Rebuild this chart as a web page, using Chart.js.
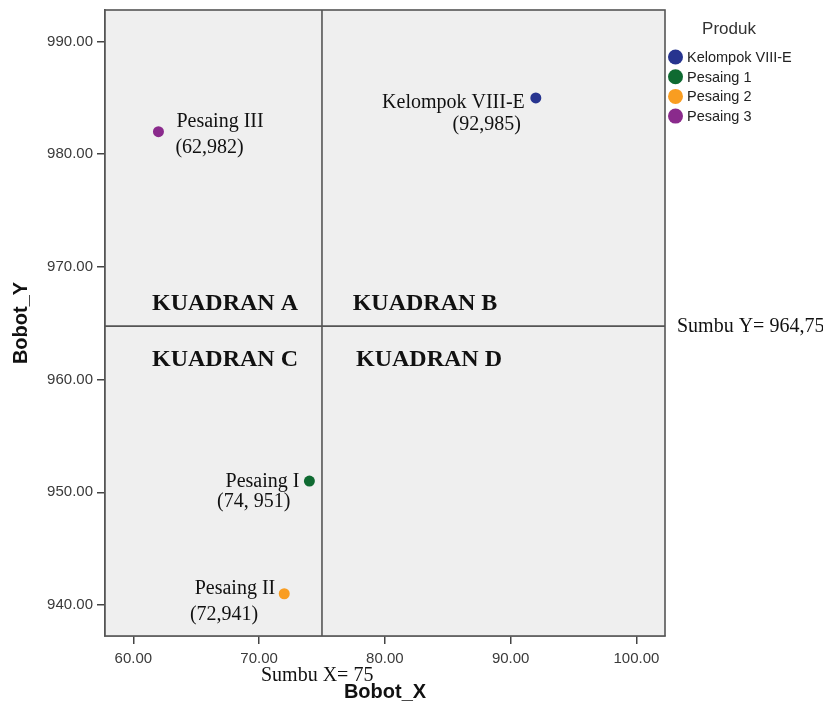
<!DOCTYPE html>
<html><head><meta charset="utf-8">
<script src="https://cdn.jsdelivr.net/npm/chart.js@4/dist/chart.umd.min.js"></script>
<style>html,body{margin:0;padding:0;background:#fff}#wrap{width:823px;height:704px;position:relative}</style>
</head><body><div id="wrap"><canvas id="c" width="823" height="704"></canvas></div>
<script>
// ---- data ----
const products = ['Kelompok VIII-E', 'Pesaing 1', 'Pesaing 2', 'Pesaing 3'];
const bobotX = [92, 74, 72, 62];
const bobotY = [985, 951, 941, 982];
const pointNames = ['Kelompok VIII-E', 'Pesaing I', 'Pesaing II', 'Pesaing III'];
const pointCoords = ['(92,985)', '(74, 951)', '(72,941)', '(62,982)'];
const sumbuX = 75;
const sumbuY = 964.75;
const sumbuXLabel = 'Sumbu X= 75';
const sumbuYLabel = 'Sumbu Y= 964,75';
const quadrantNames = ['KUADRAN A', 'KUADRAN B', 'KUADRAN C', 'KUADRAN D'];
const xRange = [57.75, 102.27];
const yRange = [937.25, 992.80];
const xTickStep = 10;
const yTickStep = 10;
const legendTitle = 'Produk';

// ---- styles ----
const productColors = ['#27348f', '#0f6a31', '#f99d21', '#8a2a8c'];
const SANS = '"Liberation Sans", Arial, sans-serif';
const SERIF = '"Liberation Serif", "Times New Roman", serif';
// label offsets in px relative to each point: [nameDx, nameDy, nameAlign, coordDx, coordDy, coordAlign]
const labelOffsets = [
  [-11, 10, 'right', -15, 32, 'right'],
  [-10, 6, 'right', -19, 26, 'right'],
  [-9, 0, 'right', -26, 26, 'right'],
  [18, -5, 'left', 17, 21, 'left']
];
// quadrant label offsets relative to the crossing of the lines
const quadOffsets = [[-97, -16], [103, -16], [-97, 40], [107, 40]];

const W = 823, H = 704;
const AREA = {left: 105, top: 10, right: 665, bottom: 636};

const datasets = products.map((p, i) => ({
  label: p,
  data: [{x: bobotX[i], y: bobotY[i]}],
  backgroundColor: productColors[i],
  borderColor: productColors[i],
  borderWidth: 0,
  pointRadius: 5.5,
  pointHoverRadius: 5.5
}));
datasets.unshift({
  label: '_vline',
  data: [{x: sumbuX, y: yRange[0]}, {x: sumbuX, y: yRange[1]}],
  showLine: true, borderColor: '#555', borderWidth: 1.6, pointRadius: 0
}, {
  label: '_hline',
  data: [{x: xRange[0], y: sumbuY}, {x: xRange[1], y: sumbuY}],
  showLine: true, borderColor: '#555', borderWidth: 1.6, pointRadius: 0
});

const framePlugin = {
  id: 'frame',
  beforeDatasetsDraw(chart) {
    const {ctx, chartArea: a} = chart;
    ctx.save();
    ctx.fillStyle = '#efefef';
    ctx.fillRect(a.left, a.top, a.right - a.left, a.bottom - a.top);
    ctx.restore();
  },
  afterDatasetsDraw(chart) {
    const {ctx, chartArea: a, scales: {x, y}} = chart;
    ctx.save();
    // point labels
    ctx.fillStyle = '#111';
    ctx.font = '20px ' + SERIF;
    ctx.textBaseline = 'alphabetic';
    for (let i = 0; i < products.length; i++) {
      const px = x.getPixelForValue(bobotX[i]);
      const py = y.getPixelForValue(bobotY[i]);
      const o = labelOffsets[i];
      ctx.textAlign = o[2];
      ctx.fillText(pointNames[i], px + o[0], py + o[1]);
      ctx.textAlign = o[5];
      ctx.fillText(pointCoords[i], px + o[3], py + o[4]);
    }
    // quadrant labels
    const cx = x.getPixelForValue(sumbuX), cy = y.getPixelForValue(sumbuY);
    ctx.font = 'bold 24px ' + SERIF;
    ctx.textAlign = 'center';
    quadrantNames.forEach((q, i) => {
      ctx.fillText(q, cx + quadOffsets[i][0], cy + quadOffsets[i][1]);
    });
    ctx.restore();
  },
  afterDraw(chart) {
    const {ctx, chartArea: a, scales: {x, y}} = chart;
    ctx.save();
    ctx.strokeStyle = '#555';
    ctx.lineWidth = 1.6;
    ctx.strokeRect(a.left, a.top, a.right - a.left, a.bottom - a.top);
    // axis line annotations
    const cx = x.getPixelForValue(sumbuX), cy = y.getPixelForValue(sumbuY);
    ctx.fillStyle = '#111';
    ctx.font = '20px ' + SERIF;
    ctx.textAlign = 'left';
    ctx.textBaseline = 'middle';
    ctx.fillText(sumbuYLabel, a.right + 12, cy + 1);
    ctx.textBaseline = 'alphabetic';
    ctx.fillText(sumbuXLabel, cx - 61, a.bottom + 45);
    // legend
    ctx.fillStyle = '#333';
    ctx.font = '17px ' + SANS;
    ctx.textAlign = 'center';
    ctx.textBaseline = 'middle';
    ctx.fillText(legendTitle, a.right + 64, 29);
    ctx.font = '14.5px ' + SANS;
    ctx.textAlign = 'left';
    products.forEach((p, i) => {
      const ly = 57 + i * 19.7;
      ctx.beginPath();
      ctx.fillStyle = productColors[i];
      ctx.arc(a.right + 10.5, ly, 7.5, 0, Math.PI * 2);
      ctx.fill();
      ctx.fillStyle = '#222';
      ctx.fillText(p, a.right + 22, ly + 1);
    });
    ctx.restore();
  }
};

new Chart(document.getElementById('c'), {
  type: 'scatter',
  data: {datasets},
  options: {
    responsive: false,
    animation: false,
    events: [],
    layout: {padding: {left: 0, top: AREA.top, right: W - AREA.right, bottom: 0}},
    plugins: {legend: {display: false}, tooltip: {enabled: false}},
    scales: {
      x: {
        type: 'linear', position: 'bottom',
        min: xRange[0], max: xRange[1],
        ticks: {
          stepSize: xTickStep, includeBounds: false,
          callback: v => Number(v).toFixed(2),
          font: {family: SANS, size: 15}, color: '#3a3a3a', padding: 6, maxRotation: 0
        },
        grid: {drawOnChartArea: false, drawTicks: true, tickLength: 8, color: '#444', lineWidth: 1.5},
        border: {display: true, color: '#555', width: 1.6},
        title: {display: true, text: 'Bobot_X', font: {family: SANS, size: 20, weight: 'bold'}, color: '#111', padding: {top: 0, bottom: 0}},
        afterFit: s => { s.height = H - AREA.bottom; s.paddingLeft = 0; s.paddingRight = 0; }
      },
      y: {
        type: 'linear', position: 'left',
        min: yRange[0], max: yRange[1],
        ticks: {
          stepSize: yTickStep, includeBounds: false,
          callback: v => Number(v).toFixed(2),
          font: {family: SANS, size: 15}, color: '#3a3a3a', padding: 4
        },
        grid: {drawOnChartArea: false, drawTicks: true, tickLength: 8, color: '#444', lineWidth: 1.5},
        border: {display: true, color: '#555', width: 1.6},
        title: {display: true, text: 'Bobot_Y', font: {family: SANS, size: 20, weight: 'bold'}, color: '#111', padding: {top: 9, bottom: 0}},
        afterFit: s => { s.width = AREA.left; s.paddingTop = 0; s.paddingBottom = 0; }
      }
    }
  },
  plugins: [framePlugin]
});
</script>
</body></html>
